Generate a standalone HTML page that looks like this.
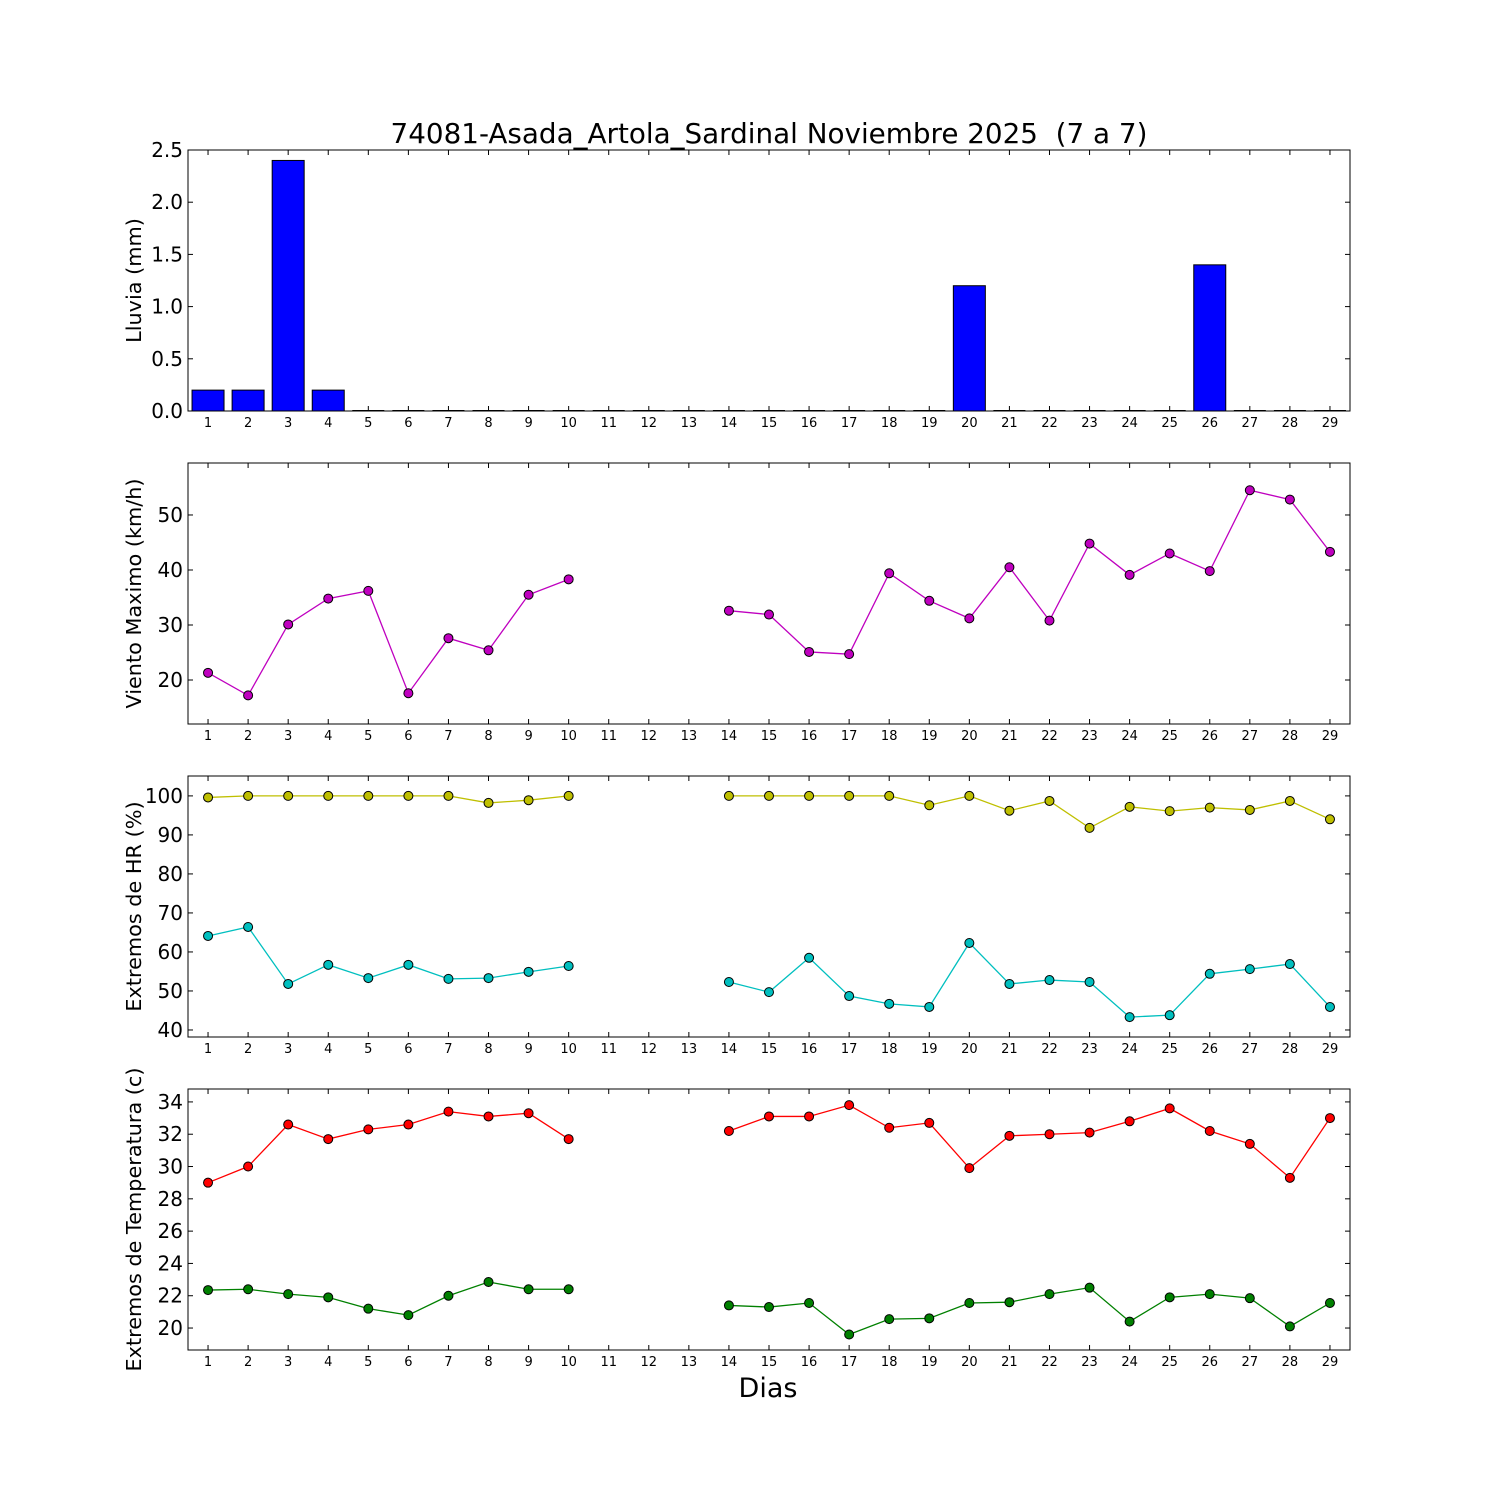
<!DOCTYPE html>
<html><head><meta charset="utf-8"><style>
html,body{margin:0;padding:0;background:#fff;}
svg{display:block;font-family:"DejaVu Sans","Liberation Sans",sans-serif;}
</style></head><body>
<svg id="chart" width="1500" height="1500" viewBox="0 0 1500 1500" xmlns="http://www.w3.org/2000/svg">
<rect width="1500" height="1500" fill="#fff"/>
<text x="769" y="143" font-size="27.8" text-anchor="middle" style="white-space:pre">74081-Asada_Artola_Sardinal Noviembre 2025  (7 a 7)</text>
<text x="768" y="1397" font-size="27" text-anchor="middle">Dias</text>
</svg>
<script>
const days = [1,2,3,4,5,6,7,8,9,10,11,12,13,14,15,16,17,18,19,20,21,22,23,24,25,26,27,28,29];
const rain = [0.2,0.2,2.4,0.2,0,0,0,0,0,0,0,0,0,0,0,0,0,0,0,1.2,0,0,0,0,0,1.4,0,0,0];
const wind = [21.3,17.2,30.1,34.8,36.2,17.6,27.6,25.4,35.5,38.3,null,null,null,32.6,31.9,25.1,24.7,39.4,34.4,31.2,40.5,30.8,44.8,39.1,43.0,39.8,54.5,52.8,43.3];
const hrMax = [99.6,100,100,100,100,100,100,98.2,98.9,100,null,null,null,100,100,100,100,100,97.6,100,96.2,98.7,91.8,97.2,96.1,97.0,96.4,98.7,94.0];
const hrMin = [64.1,66.4,51.8,56.7,53.3,56.7,53.1,53.3,54.9,56.4,null,null,null,52.3,49.7,58.5,48.7,46.7,45.9,62.3,51.8,52.8,52.3,43.3,43.8,54.4,55.6,56.9,45.9];
const tMax = [29.0,30.0,32.6,31.7,32.3,32.6,33.4,33.1,33.3,31.7,null,null,null,32.2,33.1,33.1,33.8,32.4,32.7,29.9,31.9,32.0,32.1,32.8,33.6,32.2,31.4,29.3,33.0];
const tMin = [22.35,22.4,22.1,21.9,21.2,20.8,22.0,22.85,22.4,22.4,null,null,null,21.4,21.3,21.55,19.6,20.55,20.6,21.55,21.6,22.1,22.5,20.4,21.9,22.1,21.85,20.1,21.55];
const rainTicks = [0,0.5,1,1.5,2,2.5];
const windTicks = [20,30,40,50];
const hrTicks = [40,50,60,70,80,90,100];
const tTicks = [20,22,24,26,28,30,32,34];

const NS="http://www.w3.org/2000/svg";
const svg=document.getElementById('chart');
const L=188,R=1350;
function X(d){return L+(d-0.5)*(R-L)/29;}
function mk(tag,attrs,parent){const e=document.createElementNS(NS,tag);for(const k in attrs)e.setAttribute(k,attrs[k]);(parent||svg).appendChild(e);return e;}

function panel(name,top,bot,ymin,ymax,ticks,fmt,label){
  const g=mk('g',{});
  
  
  const Y=v=>bot-(v-ymin)/(ymax-ymin)*(bot-top);
  ticks.forEach(t=>{
    const y=Y(t);
    mk('line',{x1:L,x2:L+5,y1:y,y2:y,stroke:'#000'},g);
    mk('line',{x1:R,x2:R-5,y1:y,y2:y,stroke:'#000'},g);
    const tx=mk('text',{x:L-5,y:y+7,'font-size':20,'text-anchor':'end'},g);
    
    
    tx.textContent=fmt(t);
  });
  days.forEach(d=>{
    const x=X(d);
    mk('line',{x1:x,x2:x,y1:bot,y2:bot-5,stroke:'#000'},g);
    mk('line',{x1:x,x2:x,y1:top,y2:top+5,stroke:'#000'},g);
    const tx=mk('text',{x:x,y:bot+16,'font-size':13,'text-anchor':'middle'},g);
    
    
    tx.textContent=d;
  });
  const cy=(top+bot)/2;
  const lb=mk('text',{x:0,y:0,'font-size':20.8,'text-anchor':'middle',transform:`translate(141,${cy}) rotate(-90)`},g);
  
  
  lb.textContent=label;
  return {g,Y,top,bot};
}
function frame(p){
  const f=mk('rect',{x:L,y:p.top,width:R-L,height:p.bot-p.top,fill:'none',stroke:'#000','stroke-width':1},p.g);
  
  
}
function series(p,vals,color,name){
  let seg=[];
  const segs=[];
  vals.forEach((v,i)=>{ if(v==null){if(seg.length)segs.push(seg);seg=[];} else seg.push([X(days[i]),p.Y(v)]); });
  if(seg.length)segs.push(seg);
  segs.forEach(s=>{
    const pl=mk('polyline',{points:s.map(q=>q.join(',')).join(' '),fill:'none',stroke:color,'stroke-width':1.3},p.g);
    
    
  });
  vals.forEach((v,i)=>{ if(v==null)return;
    const c=mk('circle',{cx:X(days[i]),cy:p.Y(v),r:4.5,fill:color,stroke:'#000','stroke-width':1},p.g);
    
    
  });
}

const p1=panel('rain',150,411,0,2.5,rainTicks,t=>t.toFixed(1),'Lluvia (mm)');
rain.forEach((v,i)=>{
  const x=X(days[i])-16, y=p1.Y(v);
  if(v>0){
    const r=mk('rect',{x:x,y:y,width:32,height:p1.Y(0)-y,fill:'#0000ff',stroke:'#000','stroke-width':1},p1.g);
    
    
  } else {
    const l=mk('line',{x1:x,x2:x+32,y1:y-0.5,y2:y-0.5,stroke:'#000'},p1.g);
    
    
  }
});
frame(p1);

const p2=panel('wind',463,724,12,59.45,windTicks,t=>t,'Viento Maximo (km/h)');
series(p2,wind,'#bf00bf','wind');
frame(p2);

const p3=panel('humidity',776,1037,38.2,105.1,hrTicks,t=>t,'Extremos de HR (%)');
series(p3,hrMax,'#bfbf00','hr-max');
series(p3,hrMin,'#00bfbf','hr-min');
frame(p3);

const p4=panel('temperature',1089,1350,18.64,34.8,tTicks,t=>t,'Extremos de Temperatura (c)');
series(p4,tMax,'#ff0000','temp-max');
series(p4,tMin,'#008000','temp-min');
frame(p4);
</script>
</body></html>
